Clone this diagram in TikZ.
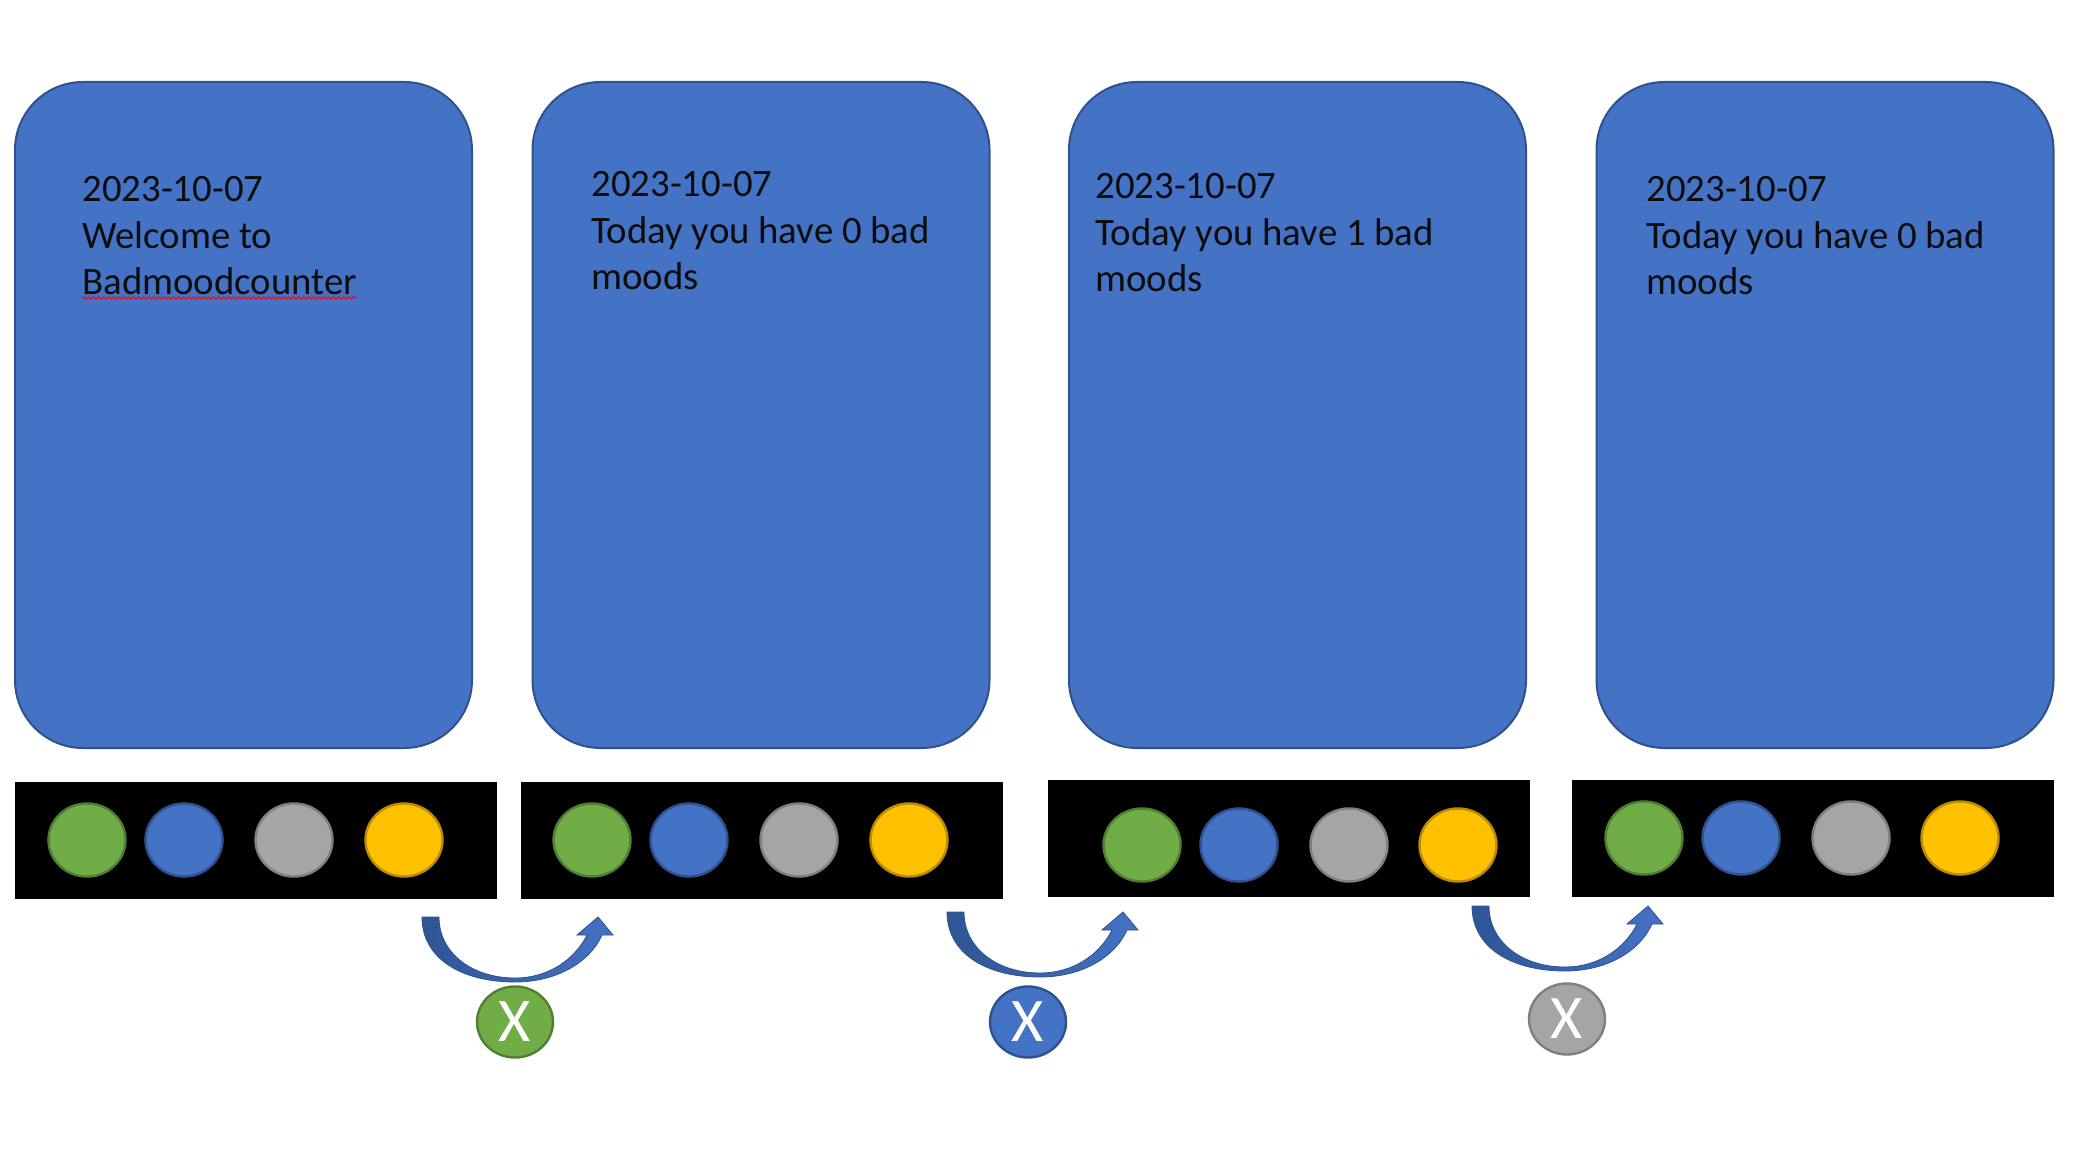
\documentclass[tikz,border=0pt]{standalone}
\usepackage{fontspec}
\setmainfont{Carlito}
\usetikzlibrary{shapes.geometric,decorations.pathmorphing}
\definecolor{cardblue}{HTML}{4472C4}
\definecolor{cardedge}{HTML}{2F528F}
\definecolor{mgreen}{HTML}{70AD47}
\definecolor{mgreenedge}{HTML}{507E32}
\definecolor{mgray}{HTML}{A5A5A5}
\definecolor{mgrayedge}{HTML}{7F7F7F}
\definecolor{myellow}{HTML}{FFC000}
\definecolor{myellowedge}{HTML}{BC8C00}
\definecolor{arrowdark}{HTML}{2E5594}
\definecolor{txt}{HTML}{0D0D0D}
\begin{document}
\begin{tikzpicture}[x=0.5pt,y=-0.5pt,
  card/.style={draw=cardedge, fill=cardblue, line width=1pt, rounded corners=34pt,
    minimum width=228.5pt, minimum height=333pt, inner sep=0pt},
  bar/.style={fill=black, minimum height=58.5pt, minimum width=241pt, inner sep=0pt},
  dot/.style={ellipse, line width=1.2pt, minimum width=38.5pt, minimum height=36.5pt, inner sep=0pt},
  gdot/.style={dot, fill=mgreen, draw=mgreenedge},
  bdot/.style={dot, fill=cardblue, draw=cardedge},
  ydot/.style={dot, fill=mgray, draw=mgrayedge},
  odot/.style={dot, fill=myellow, draw=myellowedge},
  xdot/.style={minimum width=38pt, minimum height=35.5pt, text=white,
    font=\fontsize{31pt}{31pt}\selectfont},
  cardtext/.style={anchor=base west, inner sep=0pt, text=txt,
    font=\fontsize{19.4pt}{23.2pt}\selectfont},
  curvarrow/.pic={
    \path[left color=arrowdark, right color=cardblue, draw=cardedge, line width=0.4pt]
      (0,0) .. controls (0,42) and (40,65) .. (93,65)
      .. controls (135,65) and (168,45) .. (180,18)
      -- (191,18) -- (176,0) -- (155,18) -- (165,18)
      .. controls (153,42) and (127,61) .. (93,61)
      .. controls (50,61) and (17,36) .. (17,0) -- cycle;
  }
]
\useasboundingbox (0,0) rectangle (2077,1154);

% cards
\node[card] (c1) at (243.5,415) {};
\node[card] (c2) at (761,415) {};
\node[card] (c3) at (1297.5,415) {};
\node[card] (c4) at (1825,415) {};

% card texts
\node[cardtext] (t1) at (82,202) {\begin{tabular}[t]{@{}l@{}}2023-10-07\\Welcome to\\Badmoodcounter\end{tabular}};
\node[cardtext] (t2) at (591,197) {\begin{tabular}[t]{@{}l@{}}2023-10-07\\Today you have 0 bad\\moods\end{tabular}};
\node[cardtext] (t3) at (1095,199) {\begin{tabular}[t]{@{}l@{}}2023-10-07\\Today you have 1 bad\\moods\end{tabular}};
\node[cardtext] (t4) at (1646,202) {\begin{tabular}[t]{@{}l@{}}2023-10-07\\Today you have 0 bad\\moods\end{tabular}};
\draw[red, line width=0.5pt, decorate, decoration={snake, amplitude=0.6pt, segment length=2.5pt}]
  (82,298) -- (357,298);

% bars
\node[bar] (b1) at (256,840.5) {};
\node[bar] (b2) at (761.5,840.5) {};
\node[bar] (b3) at (1289,838.5) {};
\node[bar] (b4) at (1812.5,838.5) {};

% mood dots
\node[gdot] (g1) at (87,840) {};
\node[bdot] (u1) at (184,840) {};
\node[ydot] (s1) at (294,840) {};
\node[odot] (y1) at (404,840) {};

\node[gdot] (g2) at (592,840) {};
\node[bdot] (u2) at (689,840) {};
\node[ydot] (s2) at (799,840) {};
\node[odot] (y2) at (909,840) {};

\node[gdot] (g3) at (1142,845) {};
\node[bdot] (u3) at (1239,845) {};
\node[ydot] (s3) at (1349,845) {};
\node[odot] (y3) at (1458,845) {};

\node[gdot] (g4) at (1644,838) {};
\node[bdot] (u4) at (1741,838) {};
\node[ydot] (s4) at (1851,838) {};
\node[odot] (y4) at (1960,838) {};

% curved arrows
\pic at (422,917) {curvarrow};
\pic at (947,912) {curvarrow};
\pic at (1472,906) {curvarrow};

% X buttons
\node[gdot, xdot] (x1) at (515,1022) {X};
\node[bdot, xdot] (x2) at (1028,1022) {X};
\node[ydot, xdot] (x3) at (1567,1019) {X};
\end{tikzpicture}
\end{document}
